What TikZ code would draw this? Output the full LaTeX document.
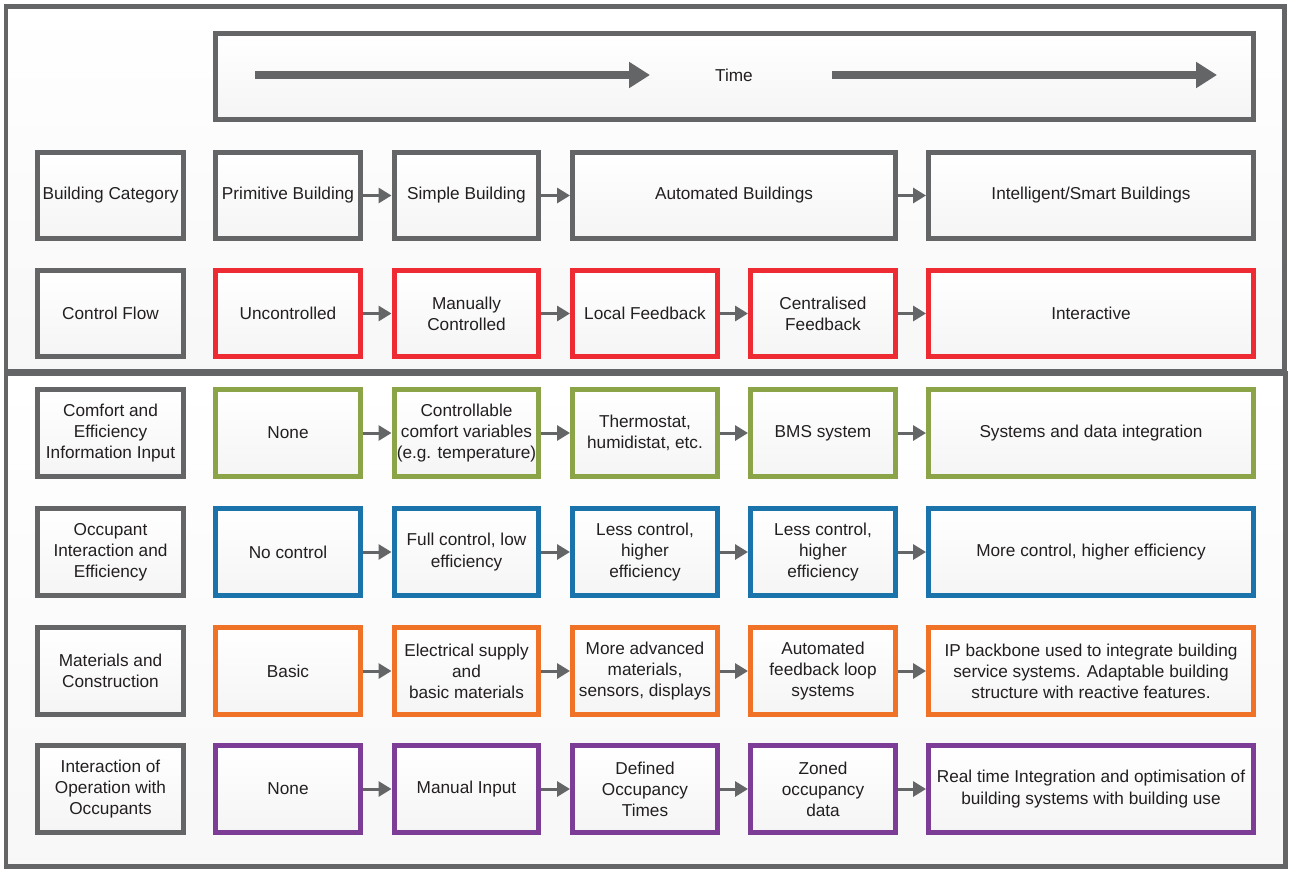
\documentclass[tikz,border=0pt]{standalone}
\usepackage{fontspec}
\setmainfont{Liberation Sans}
\usepackage{tikz}
\usetikzlibrary{arrows.meta, positioning, shadows}
\definecolor{BLDgray}{HTML}{646567}
\definecolor{BLDtext}{HTML}{231F20}
\definecolor{BLDred}{HTML}{EE2A33}
\definecolor{BLDgreen}{HTML}{8AA447}
\definecolor{BLDblue}{HTML}{1B73AC}
\definecolor{BLDorange}{HTML}{F07226}
\definecolor{BLDpurple}{HTML}{7D3C96}

\begin{document}
\begin{tikzpicture}[x=0.02cm, y=-0.02cm,
    every node/.style={font=\fontsize{9.8}{12}\selectfont, text=BLDtext, align=center},
    cell/.style={draw=#1, line width=0.1cm, minimum width=2.9cm, minimum height=1.74cm,
      inner sep=0pt, top color=white, bottom color=black!4,
      drop shadow={shadow xshift=0.05cm, shadow yshift=-0.05cm, fill=black!9, opacity=1}},
    wide/.style={cell=#1, minimum width=6.5cm},
    flow/.style={BLDgray, line width=0.06cm, -{Triangle[length=0.26cm, width=0.3cm]}},
    timeflow/.style={BLDgray, line width=0.16cm, -{Triangle[length=0.42cm, width=0.5cm]},
      drop shadow={shadow xshift=0.06cm, shadow yshift=-0.06cm, fill=black!15, opacity=1}}
  ]
    \useasboundingbox (0,0) rectangle (1291,876);
    \fill[white] (0,0) rectangle (1291,876);
    % Panels
    \draw[BLDgray, line width=0.1cm, top color=white, bottom color=black!3] (6,6) rectangle (1284,371);
    \draw[BLDgray, line width=0.1cm, top color=white, bottom color=black!3] (6,373) rectangle (1285,866);
    % Time
    \node[cell=BLDgray, minimum width=20.76cm] (timebox) at (734.5,76.5) {};
    \node (timelbl) at (734,75) {Time};
    \coordinate (tl0) at (255,75);
    \coordinate (tl1) at (650,75);
    \coordinate (tr0) at (832,75);
    \coordinate (tr1) at (1217,75);
    \draw[timeflow] (tl0) -- (tl1);
    \draw[timeflow] (tr0) -- (tr1);
    % Building category
    \node[cell=BLDgray, minimum width=2.92cm] (lab1) at (110.5,195.5) {Building Category};
    \node[cell=BLDgray] (c11) at (288,195.5) {Primitive Building};
    \node[cell=BLDgray] (c12) at (466.5,195.5) {Simple Building};
    \node[cell=BLDgray, minimum width=6.46cm] (c13) at (734,195.5) {Automated Buildings};
    \node[wide=BLDgray] (c15) at (1091,195.5) {Intelligent/Smart Buildings};
    \draw[flow] (c11) -- (c12);
    \draw[flow] (c12) -- (c13);
    \draw[flow] (c13) -- (c15);
    % Control flow
    \node[cell=BLDgray, minimum width=2.92cm] (lab2) at (110.5,313.5) {Control Flow};
    \node[cell=BLDred] (c21) at (288,313.5) {Uncontrolled};
    \node[cell=BLDred] (c22) at (466.5,313.5) {Manually\\Controlled};
    \node[cell=BLDred] (c23) at (645,313.5) {Local Feedback};
    \node[cell=BLDred] (c24) at (823,313.5) {Centralised\\Feedback};
    \node[wide=BLDred] (c25) at (1091,313.5) {Interactive};
    % Comfort and efficiency
    \node[cell=BLDgray, minimum width=2.92cm] (lab3) at (110.5,433) {Comfort and\\Efficiency\\Information Input};
    \node[cell=BLDgreen] (c31) at (288,433) {None};
    \node[cell=BLDgreen] (c32) at (466.5,433) {Controllable\\comfort variables\\(e.g. temperature)};
    \node[cell=BLDgreen] (c33) at (645,433) {Thermostat,\\humidistat, etc.};
    \node[cell=BLDgreen] (c34) at (823,433) {BMS system};
    \node[wide=BLDgreen] (c35) at (1091,433) {Systems and data integration};
    % Occupant interaction
    \node[cell=BLDgray, minimum width=2.92cm] (lab4) at (110.5,552) {Occupant\\Interaction and\\Efficiency};
    \node[cell=BLDblue] (c41) at (288,552) {No control};
    \node[cell=BLDblue] (c42) at (466.5,552) {Full control, low\\efficiency};
    \node[cell=BLDblue] (c43) at (645,552) {Less control,\\higher\\efficiency};
    \node[cell=BLDblue] (c44) at (823,552) {Less control,\\higher\\efficiency};
    \node[wide=BLDblue] (c45) at (1091,552) {More control, higher efficiency};
    % Materials
    \node[cell=BLDgray, minimum width=2.92cm] (lab5) at (110.5,671) {Materials and\\Construction};
    \node[cell=BLDorange] (c51) at (288,671) {Basic};
    \node[cell=BLDorange] (c52) at (466.5,671) {Electrical supply\\and\\basic materials};
    \node[cell=BLDorange] (c53) at (645,671) {More advanced\\materials,\\sensors, displays};
    \node[cell=BLDorange] (c54) at (823,671) {Automated\\feedback loop\\systems};
    \node[wide=BLDorange] (c55) at (1091,671) {IP backbone used to integrate building\\service systems. Adaptable building\\structure with reactive features.};
    % Operation with occupants
    \node[cell=BLDgray, minimum width=2.92cm] (lab6) at (110.5,789) {Interaction of\\Operation with\\Occupants};
    \node[cell=BLDpurple] (c61) at (288,789) {None};
    \node[cell=BLDpurple] (c62) at (466.5,789) {Manual Input};
    \node[cell=BLDpurple] (c63) at (645,789) {Defined\\Occupancy\\Times};
    \node[cell=BLDpurple] (c64) at (823,789) {Zoned\\occupancy\\data};
    \node[wide=BLDpurple] (c65) at (1091,789) {Real time Integration and optimisation of\\building systems with building use};
    % Arrows
    \foreach \r in {2,...,6}
      \foreach \a/\b in {1/2,2/3,3/4,4/5}
        \draw[flow] (c\r\a) -- (c\r\b);
  \end{tikzpicture}
\end{document}
